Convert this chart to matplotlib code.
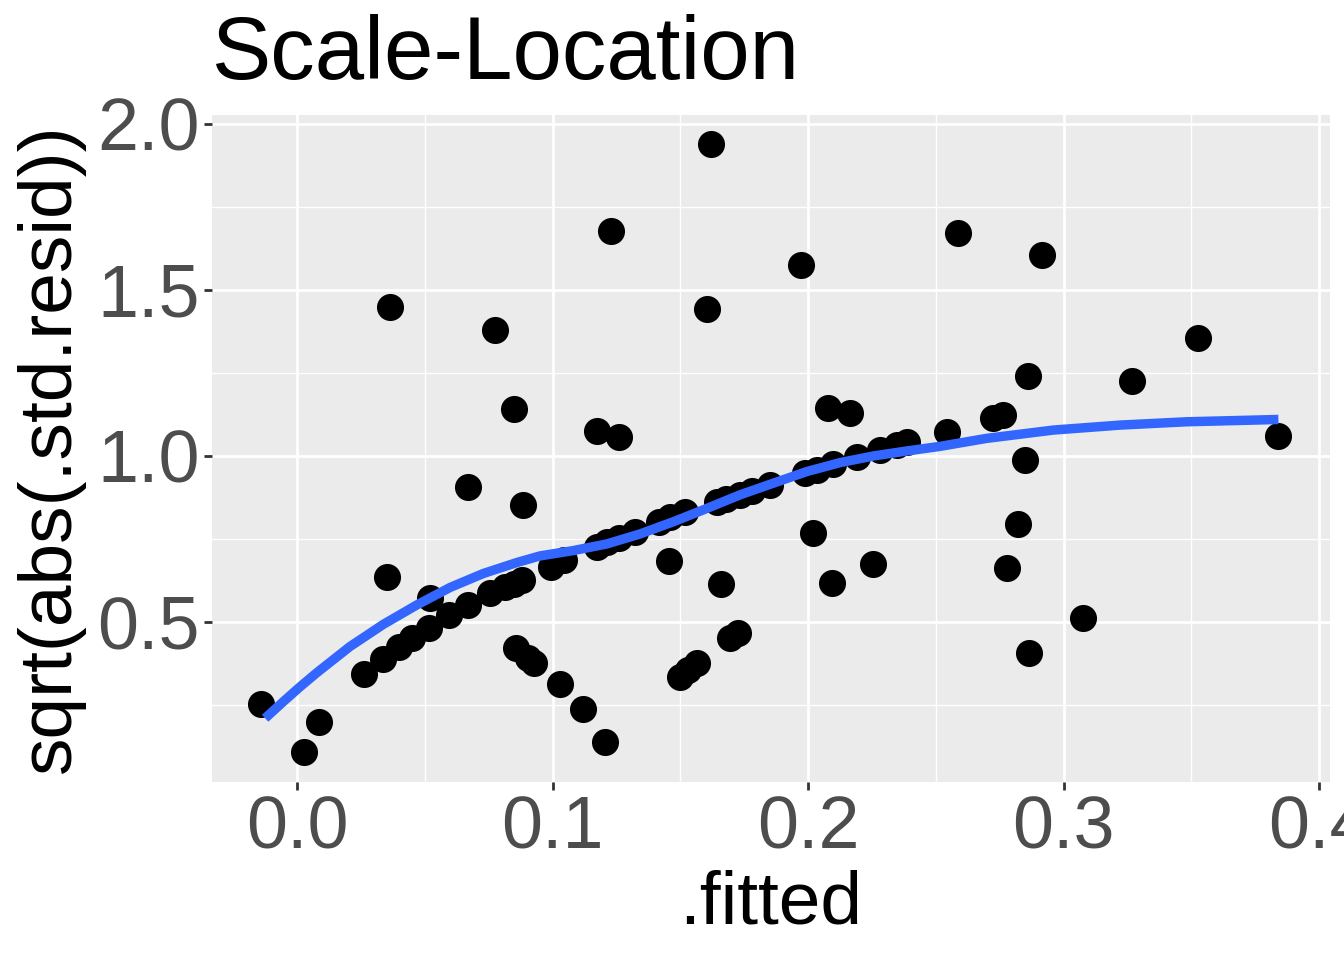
import matplotlib
matplotlib.use("Agg")
import matplotlib.pyplot as plt
from matplotlib.ticker import MultipleLocator

fitted = [0.162, 0.1229, 0.2587, 0.2916, 0.1973, 0.0364, 0.1603, 0.0776, 0.3525, 0.286,
          0.3268, 0.208, 0.0851, 0.2164, 0.2725, 0.2764, 0.1173, 0.126, 0.2543, 0.3841,
          0.285, 0.067, 0.0885, 0.2822, 0.2021, 0.1457, 0.2256, 0.278, 0.0352, 0.2093,
          0.166, 0.3075, 0.1727, 0.1695, 0.0855, 0.2866, 0.0905, 0.0926, 0.1564, 0.153,
          0.150, 0.103, -0.014, 0.112, 0.0085, 0.1207, 0.0026,
          0.026, 0.0335, 0.0398, 0.045, 0.0515, 0.052, 0.0596, 0.067, 0.0757, 0.0815,
          0.085, 0.088, 0.0995, 0.1044, 0.1174, 0.1213, 0.1259, 0.1324, 0.1416, 0.146,
          0.152, 0.1643, 0.168, 0.1734, 0.178, 0.185, 0.1988, 0.2034, 0.2099, 0.219,
          0.228, 0.2347, 0.2386]
sqrt_std_resid = [1.939, 1.678, 1.672, 1.605, 1.575, 1.449, 1.443, 1.379, 1.355, 1.241,
                  1.225, 1.144, 1.142, 1.129, 1.113, 1.123, 1.075, 1.056, 1.073, 1.060,
                  0.988, 0.908, 0.852, 0.795, 0.767, 0.684, 0.674, 0.663, 0.636, 0.617,
                  0.614, 0.513, 0.466, 0.451, 0.421, 0.408, 0.390, 0.376, 0.376, 0.355,
                  0.335, 0.313, 0.253, 0.238, 0.198, 0.138, 0.108,
                  0.343, 0.389, 0.426, 0.452, 0.481, 0.571, 0.521, 0.551, 0.586, 0.606,
                  0.615, 0.627, 0.665, 0.687, 0.727, 0.742, 0.752, 0.770, 0.802, 0.815,
                  0.830, 0.862, 0.870, 0.883, 0.893, 0.912, 0.948, 0.958, 0.975, 0.998,
                  1.018, 1.033, 1.043]

smooth_x = [-0.0125, -0.0054, 0.0012, 0.0077, 0.0207, 0.0338, 0.0468, 0.0599, 0.0729,
            0.086, 0.0951, 0.1081, 0.1212, 0.1342, 0.1473, 0.1604, 0.1734, 0.1864,
            0.1995, 0.2125, 0.2256, 0.2386, 0.2517, 0.2699, 0.296, 0.3221, 0.3482,
            0.3743, 0.3841]
smooth_y = [0.210, 0.260, 0.305, 0.347, 0.426, 0.493, 0.551, 0.604, 0.646,
            0.679, 0.699, 0.715, 0.735, 0.765, 0.802, 0.842, 0.883, 0.918,
            0.953, 0.980, 1.000, 1.015, 1.029, 1.053, 1.078, 1.093, 1.103,
            1.108, 1.110]

x_ticks = [0.0, 0.1, 0.2, 0.3, 0.4]
y_ticks = [0.5, 1.0, 1.5, 2.0]

plt.rcParams['font.family'] = ['Liberation Sans', 'DejaVu Sans']

fig = plt.figure(figsize=(13.44, 9.6), dpi=100)
ax = fig.add_axes([212/1344, 1-782/960, (1330-212)/1344, (782-115)/960])
ax.set_facecolor('#EBEBEB')
for s in ax.spines.values():
    s.set_visible(False)

ax.set_xlim(-0.0333, 0.4043)
ax.set_ylim(0.018, 2.027)
ax.set_xticks(x_ticks)
ax.set_yticks(y_ticks)
ax.set_xticklabels([f"{v:.1f}" for v in x_ticks])
ax.set_yticklabels([f"{v:.1f}" for v in y_ticks])
ax.xaxis.set_minor_locator(MultipleLocator(0.05))
ax.yaxis.set_minor_locator(MultipleLocator(0.25))
ax.grid(which='major', color='white', linewidth=2.0)
ax.grid(which='minor', color='white', linewidth=1.0)
ax.set_axisbelow(True)
ax.tick_params(which='major', length=6, width=2, color='#333333', labelcolor='#4D4D4D',
               labelsize=53, pad=3)
ax.tick_params(which='minor', length=0)

ax.scatter(fitted, sqrt_std_resid, s=380, color='black', zorder=3, linewidths=0)
ax.plot(smooth_x, smooth_y, color='#3366FF', linewidth=6.8, zorder=4, solid_capstyle='butt')

ax.set_xlabel('.fitted', fontsize=54, color='black', labelpad=4)
ax.set_ylabel('sqrt(abs(.std.resid))', fontsize=54, color='black', labelpad=9)
ax.set_title('Scale-Location', fontsize=64, loc='left', pad=26, color='black')

fig.savefig('out.png', dpi=100)
